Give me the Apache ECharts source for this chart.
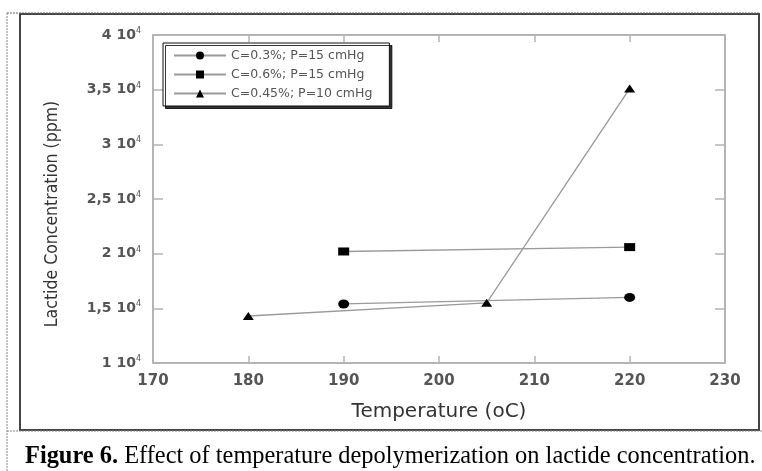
<!DOCTYPE html>
<html>
<head>
<meta charset="utf-8">
<title>Figure 6</title>
<script src="https://cdn.jsdelivr.net/npm/echarts@6/dist/echarts.min.js"></script>
<style>
    html, body { margin: 0; padding: 0; background: #fff; }
    #chart { width: 762px; height: 471px; }
</style>
</head>
<body>
<div id="chart"></div>
<script>
// ============================= 数据 ===============================

const seriesNames = ['C=0.3%; P=15 cmHg', 'C=0.6%; P=15 cmHg', 'C=0.45%; P=10 cmHg'];

const tempC03 = [190, 220];
const concC03 = [15400, 16000];

const tempC06 = [190, 220];
const concC06 = [20200, 20600];

const tempC045 = [180, 205, 220];
const concC045 = [14300, 15500, 35100];

// y tick labels: mantissa shown before "10^4"
const yTickMantissa = { 10000: '1', 15000: '1,5', 20000: '2', 25000: '2,5', 30000: '3', 35000: '3,5', 40000: '4' };

const captionBold = 'Figure 6.';
const captionText = ' Effect of temperature depolymerization on lactide concentration.';

// ============================= 工具 ===============================

function pairs(xs, ys) {
    return xs.map((x, i) => [x, ys[i]]);
}

const lineColor = '#9a9a9a';
const axisColor = '#b4b4b4';
const labelColor = '#555';

function makeSeries(name, symbol, size, xs, ys) {
    return {
        name: name,
        type: 'line',
        data: pairs(xs, ys),
        symbol: symbol,
        symbolSize: size,
        showAllSymbol: true,
        itemStyle: { color: '#000' },
        lineStyle: { color: lineColor, width: 1.3 },
        emphasis: { disabled: true },
        z: 3
    };
}

const axisLineStyle = { show: true, lineStyle: { color: axisColor, width: 2 } };

// ============================= 配置 ===============================

let option = {
    animation: false,
    backgroundColor: '#fff',
    grid: { left: 153, top: 35, right: 37, bottom: 108, containLabel: false },
    legend: {
        orient: 'vertical',
        left: 163,
        top: 43,
        padding: [6, 17, 6, 10],
        itemWidth: 52,
        itemHeight: 10,
        itemGap: 6,
        backgroundColor: '#fff',
        borderColor: '#111',
        borderWidth: 1,
        shadowColor: 'rgba(0,0,0,0.8)',
        shadowOffsetX: 2.5,
        shadowOffsetY: 2.5,
        shadowBlur: 0,
        selectedMode: false,
        textStyle: { fontFamily: 'DejaVu Sans', fontSize: 12.5, color: labelColor },
        data: seriesNames
    },
    xAxis: [
        {
            type: 'value',
            min: 170, max: 230, interval: 10,
            name: 'Temperature (oC)',
            nameLocation: 'middle',
            nameGap: 39,
            nameTextStyle: { fontFamily: 'DejaVu Sans', fontSize: 20, color: '#333' },
            axisLine: axisLineStyle,
            axisTick: { show: true, inside: true, length: 7, lineStyle: { color: axisColor, width: 1.5 } },
            axisLabel: { margin: 11, fontFamily: 'DejaVu Sans', fontSize: 15, color: labelColor, fontWeight: 'bold' },
            splitLine: { show: false }
        },
        {
            type: 'value', position: 'top',
            min: 170, max: 230, interval: 10,
            axisLine: axisLineStyle,
            axisTick: { show: true, inside: true, length: 7, lineStyle: { color: axisColor, width: 1.5 } },
            axisLabel: { show: false },
            splitLine: { show: false }
        }
    ],
    yAxis: [
        {
            type: 'value',
            min: 10000, max: 40000, interval: 5000,
            name: 'Lactide Concentration (ppm)',
            nameLocation: 'middle',
            nameGap: 92,
            nameRotate: 90,
            nameTextStyle: { fontFamily: 'DejaVu Sans Condensed, Roboto, sans-serif', fontSize: 17.5, color: '#333', padding: [0, 30, 0, 0] },
            axisLine: axisLineStyle,
            axisTick: { show: true, inside: true, length: 10, lineStyle: { color: axisColor, width: 1.5 } },
            axisLabel: {
                margin: 12,
                formatter: v => '{a|' + yTickMantissa[v] + ' 10}{s|4}',
                rich: {
                    a: { fontFamily: 'DejaVu Sans', fontSize: 14, fontWeight: 'bold', color: labelColor, lineHeight: 16 },
                    s: { fontFamily: 'DejaVu Sans', fontSize: 8, color: labelColor, lineHeight: 9, verticalAlign: 'top' }
                }
            },
            splitLine: { show: false }
        },
        {
            type: 'value', position: 'right',
            min: 10000, max: 40000, interval: 5000,
            axisLine: axisLineStyle,
            axisTick: { show: true, inside: true, length: 10, lineStyle: { color: axisColor, width: 1.5 } },
            axisLabel: { show: false },
            splitLine: { show: false }
        }
    ],
    series: [
        makeSeries(seriesNames[0], 'circle', [11, 9], tempC03, concC03),
        makeSeries(seriesNames[1], 'rect', [11, 8], tempC06, concC06),
        makeSeries(seriesNames[2], 'triangle', [11, 8], tempC045, concC045)
    ],
    graphic: [
        // 外框：虚线 + 实线
        { type: 'line', shape: { x1: 7, y1: 13, x2: 7, y2: 471 }, style: { stroke: '#888', lineWidth: 1, lineDash: [2, 1] }, silent: true },
        { type: 'line', shape: { x1: 7, y1: 13, x2: 760, y2: 13 }, style: { stroke: '#666', lineWidth: 1, lineDash: [2, 1] }, silent: true },
        { type: 'line', shape: { x1: 7, y1: 431, x2: 762, y2: 431 }, style: { stroke: '#888', lineWidth: 1, lineDash: [2, 1] }, silent: true },
        { type: 'rect', shape: { x: 20, y: 14, width: 739, height: 416 }, style: { fill: 'none', stroke: '#444', lineWidth: 2 }, silent: true, z: -1 },
        // 图注
        {
            type: 'text',
            left: 25,
            top: 445,
            silent: true,
            style: {
                text: '{b|' + captionBold + '}{n|' + captionText + '}',
                rich: {
                    b: { fontFamily: 'Liberation Serif', fontSize: 24.4, fontWeight: 'bold', fill: '#000' },
                    n: { fontFamily: 'Liberation Serif', fontSize: 24.4, fill: '#000' }
                }
            }
        }
    ]
};

// ============================= 设置 ===============================

echarts.init(document.getElementById('chart'), null, { renderer: 'canvas' }).setOption(option);
</script>
</body>
</html>
